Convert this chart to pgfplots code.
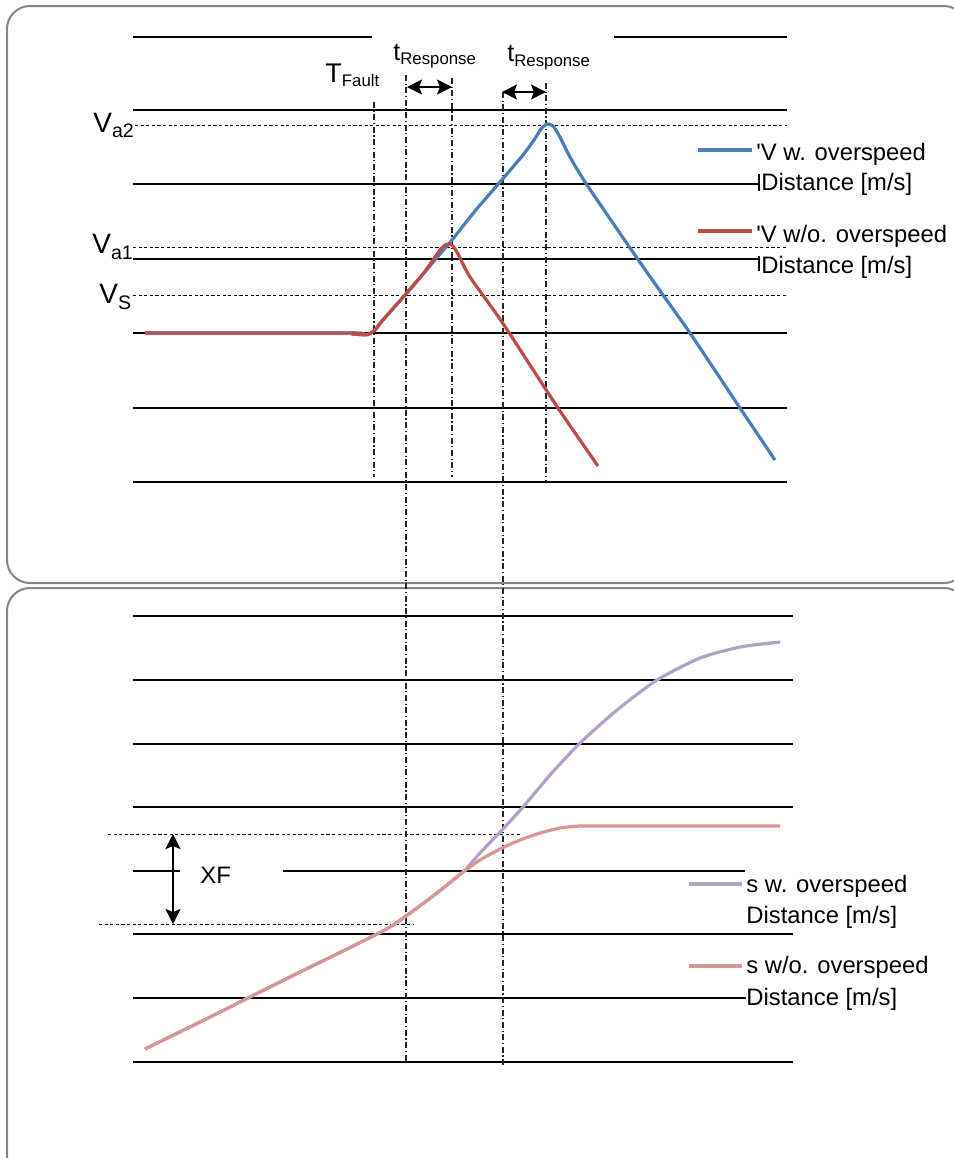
\documentclass[border=0pt]{standalone}
\usepackage{pgfplots}
\pgfplotsset{compat=1.18}
\usetikzlibrary{arrows.meta}
\usepackage{fontspec}
\setmainfont{Liberation Sans}
\definecolor{vblue}{RGB}{74,126,187}
\definecolor{vred}{RGB}{190,75,72}
\definecolor{spurp}{RGB}{179,162,199}
\definecolor{spink}{RGB}{217,150,148}
\definecolor{framegray}{RGB}{134,134,134}
\newcommand{\mainf}{\fontsize{11.9}{14}\selectfont}
\newcommand{\subs}[3]{\raisebox{-#1}{\fontsize{#2}{10}\selectfont #3}}
\tikzset{
  grid/.style={black, line width=0.7pt},
  dsh/.style={black, line width=0.5pt, dash pattern=on 1.6pt off 1.2pt},
  dd/.style={black!85, line width=0.55pt, dash pattern=on 3pt off 1.3pt on 0.6pt off 1.3pt},
  dbl/.style={line width=1pt, {Stealth[length=7.5pt,width=7.5pt,inset=1.5pt]}-{Stealth[length=7.5pt,width=7.5pt,inset=1.5pt]}},
  lbl/.style={anchor=base west, inner sep=0pt, font=\mainf},
}
\begin{document}
\begin{tikzpicture}
\useasboundingbox (0,0) rectangle (477pt,-579pt);
\clip (0,0) rectangle (477pt,-579pt);
\begin{axis}[x=0.5pt, y=0.5pt, xmin=0, xmax=954, ymin=0, ymax=1158,
  y dir=reverse, hide axis, clip=false, scale only axis,
  at={(0,0)}, anchor=north west]
% panel frames
\draw[framegray, line width=1pt, rounded corners=11.5pt] (axis cs:7,6) rectangle (axis cs:967,583);
\draw[framegray, line width=1pt, rounded corners=11.5pt] (axis cs:7,588) rectangle (axis cs:967,1185);
% ---- top panel grid lines
\draw[grid] (axis cs:133,37) -- (axis cs:372,37);
\draw[grid] (axis cs:614,37) -- (axis cs:787,37);
\draw[grid] (axis cs:133,110) -- (axis cs:787,110);
\draw[grid] (axis cs:133,184) -- (axis cs:759,184);
\draw[grid] (axis cs:133,259) -- (axis cs:759,259);
\draw[grid] (axis cs:133,333) -- (axis cs:787,333);
\draw[grid] (axis cs:133,408) -- (axis cs:787,408);
\draw[black, line width=1pt] (axis cs:133,482) -- (axis cs:787,482);
\draw[line width=0.6pt] (axis cs:759,174) -- (axis cs:759,191);
\draw[line width=0.6pt] (axis cs:759,256) -- (axis cs:759,271);
% dashed levels
\draw[dsh] (axis cs:135,125) -- (axis cs:787,125);
\draw[dsh] (axis cs:133,247) -- (axis cs:787,247);
\draw[dsh] (axis cs:133,295) -- (axis cs:787,295);
% ---- bottom panel grid lines
\draw[grid] (axis cs:133,616) -- (axis cs:793,616);
\draw[grid] (axis cs:133,680) -- (axis cs:793,680);
\draw[grid] (axis cs:133,744) -- (axis cs:793,744);
\draw[grid] (axis cs:133,807) -- (axis cs:793,807);
\draw[grid] (axis cs:133,871) -- (axis cs:180,871);
\draw[grid] (axis cs:283,871) -- (axis cs:745,871);
\draw[grid] (axis cs:133,934) -- (axis cs:793,934);
\draw[grid] (axis cs:133,998) -- (axis cs:746,998);
\draw[black, line width=1pt] (axis cs:133,1062) -- (axis cs:793,1062);
% XF dashed
\draw[dsh] (axis cs:108,834) -- (axis cs:520,834);
\draw[dsh] (axis cs:99,924) -- (axis cs:413,924);
% vertical dash-dot lines
\draw[dd] (axis cs:374,102) -- (axis cs:374,477);
\draw[dd] (axis cs:406,75) -- (axis cs:406,1063);
\draw[dd] (axis cs:452,78) -- (axis cs:452,477);
\draw[dd] (axis cs:503,92) -- (axis cs:503,1065);
\draw[dd] (axis cs:546,83) -- (axis cs:546,480);
% ---- top curves
\addplot[vblue, line width=1.6pt, smooth, tension=0.4] coordinates {
(145,333) (350,333) (360,334.5) (368,334.5) (375,330) (382,321) (405,295) (423,274)
(440,254) (452,240) (475,211) (500,182) (523,155) (534,140) (541,129) (547,124)
(553,126) (560,137) (570,157) (587,185) (637,258) (663,295) (690,333) (740,408) (775,460)};
\addplot[vred, line width=1.6pt, smooth, tension=0.4] coordinates {
(145,333) (350,333) (360,334.5) (368,334.5) (375,330) (382,321) (405,295) (423,274)
(433,260) (440,250) (445,245) (449,244) (453,246) (458,254) (470,277) (502,322) (558,408) (598,466)};
% ---- bottom curves
\addplot[spurp, line width=1.6pt, smooth, tension=0.4] coordinates {
(145,1049) (200,1022) (250,997) (300,972) (345,950) (373,936) (390,927) (406,916)
(433,896) (463,872) (480,853) (502,830) (523,807) (550,775) (580,743) (617,710)
(657,680) (700,658) (740,647) (780,642)};
\addplot[spink, line width=1.6pt, smooth, tension=0.4] coordinates {
(145,1049) (200,1022) (250,997) (300,972) (345,950) (373,936) (390,927) (406,916)
(433,896) (463,872) (480,860) (502,848) (520,840) (540,833) (560,828) (580,826) (620,826) (780,826)};
% ---- arrows
\draw[dbl] (axis cs:407,87) -- (axis cs:452,87);
\draw[dbl] (axis cs:502,92) -- (axis cs:546,92);
\draw[dbl] (axis cs:173,834) -- (axis cs:173,924);
% ---- labels
\node[lbl, font=\fontsize{14}{16}\selectfont] at (axis cs:93,132) {V\subs{2.5pt}{9.8}{a2}};
\node[lbl, font=\fontsize{14}{16}\selectfont] at (axis cs:92,253) {V\subs{3pt}{9.8}{a1}};
\node[lbl, font=\fontsize{14}{16}\selectfont] at (axis cs:99,303) {V\subs{3pt}{9.8}{S}};
\node[lbl, font=\fontsize{13.5}{16}\selectfont] at (axis cs:325,82) {T\subs{2pt}{8.4}{Fault}};
\node[lbl, font=\fontsize{12.5}{15}\selectfont] at (axis cs:393,60) {t\subs{2pt}{8.4}{Response}};
\node[lbl, font=\fontsize{12.5}{15}\selectfont] at (axis cs:507,61) {t\subs{2.5pt}{8.4}{Response}};
\node[lbl] at (axis cs:200,883) {XF};
% ---- top legend
\draw[vblue, line width=1.6pt] (axis cs:698,150) -- (axis cs:752,150);
\node[lbl] at (axis cs:756,160) {\textquotesingle V w. overspeed};
\node[lbl] at (axis cs:761,190) {Distance [m/s]};
\draw[vred, line width=1.6pt] (axis cs:698,231) -- (axis cs:752,231);
\node[lbl] at (axis cs:756,242) {\textquotesingle V w/o. overspeed};
\node[lbl] at (axis cs:761,273) {Distance [m/s]};
% ---- bottom legend
\draw[spurp, line width=1.6pt] (axis cs:689,884) -- (axis cs:742,884);
\node[lbl] at (axis cs:746,892) {s w. overspeed};
\node[lbl] at (axis cs:746,923) {Distance [m/s]};
\draw[spink, line width=1.6pt] (axis cs:689,966) -- (axis cs:742,966);
\node[lbl] at (axis cs:746,973) {s w/o. overspeed};
\node[lbl] at (axis cs:746,1005) {Distance [m/s]};
\end{axis}
\end{tikzpicture}
\end{document}
